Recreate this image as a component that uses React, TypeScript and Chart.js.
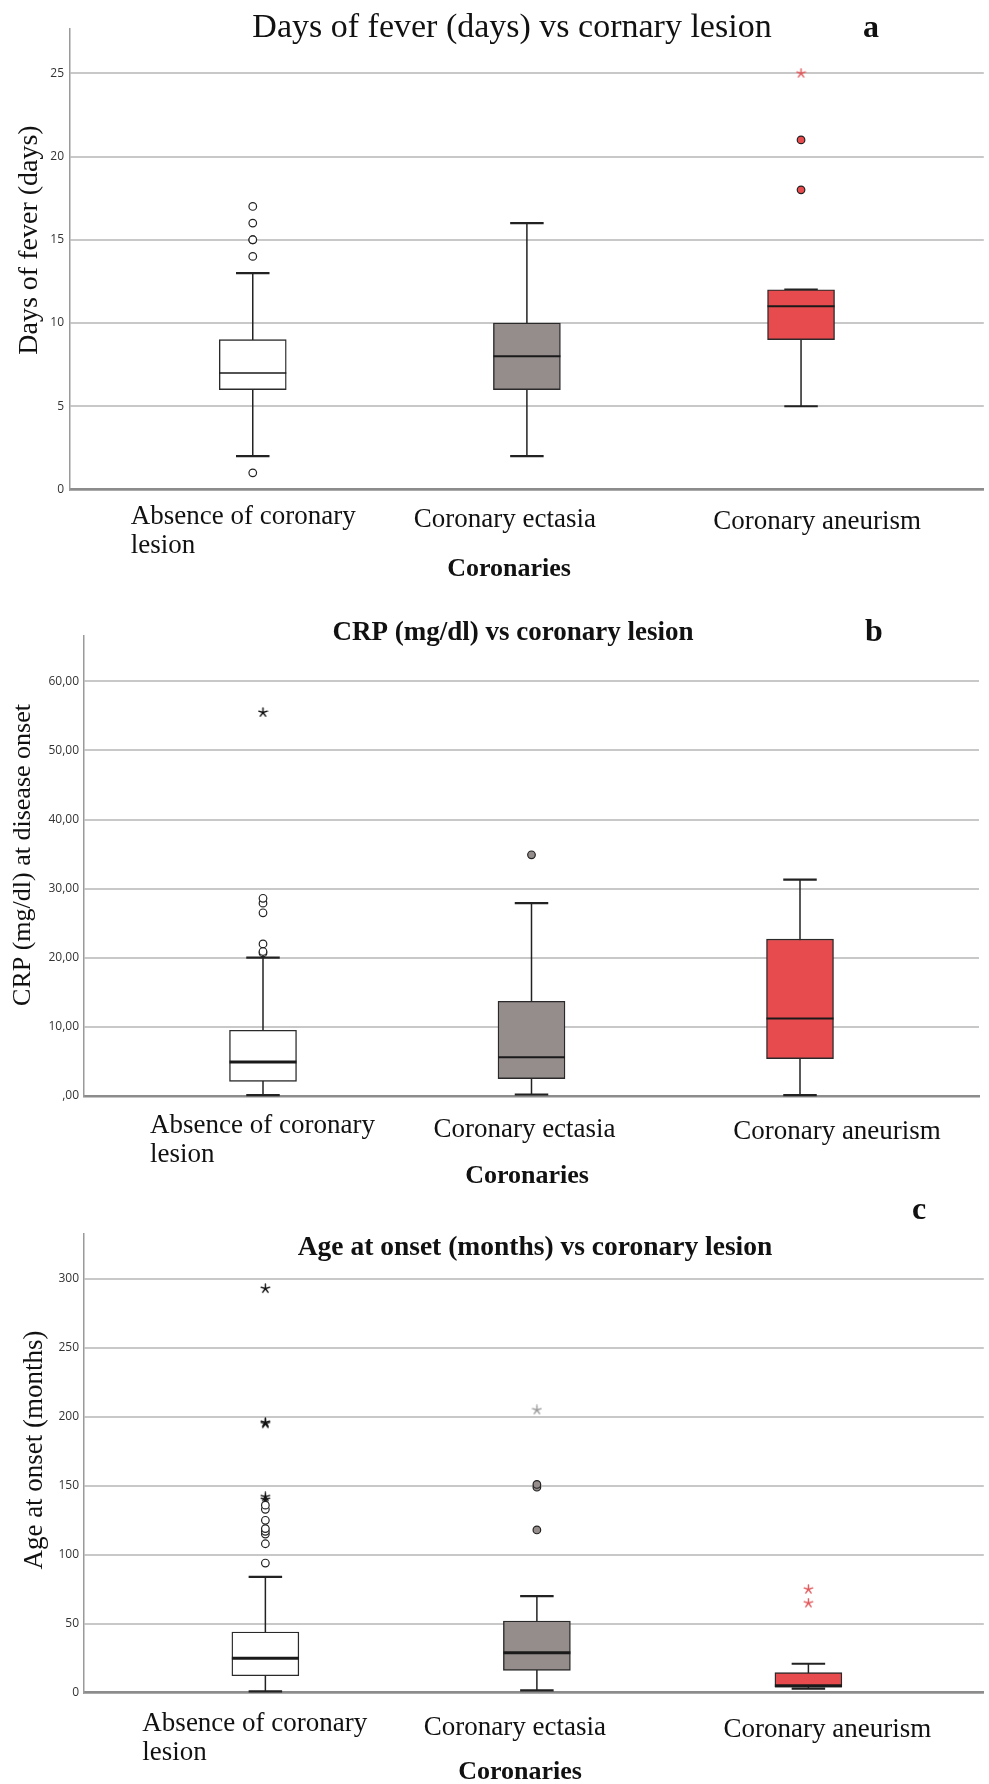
import React, { useEffect, useRef } from "react";
import { Chart, registerables } from "chart.js";

Chart.register(...registerables);

// ---------- shared categories ----------
const groupLines: string[][] = [["Absence of coronary", "lesion"], ["Coronary ectasia"], ["Coronary aneurism"]];
const groupPositions = [1, 2, 3];
const groupFills = ["#ffffff", "#958d8c", "#e84b4e"];
const starColors = ["#111111", "#9a9a9a", "#e0595b"];
const xAxisTitle = "Coronaries";

// ---------- panel a: days of fever ----------
const feverMin = [2, 2, 5];
const feverQ1 = [6, 6, 9];
const feverMedian = [7, 8, 11];
const feverQ3 = [9, 10, 12];
const feverMax = [13, 16, 12];
const feverOutliers = [[1, 14, 15, 15, 16, 17], [], [18, 21]];
const feverExtremes = [[], [], [25]];
const feverTicks = [0, 5, 10, 15, 20, 25];
const feverTickLabels = ["0", "5", "10", "15", "20", "25"];

// ---------- panel b: CRP ----------
const crpMin = [0.1, 0.2, 0.1];
const crpQ1 = [2.1, 2.5, 5.4];
const crpMedian = [4.9, 5.6, 11.2];
const crpQ3 = [9.5, 13.7, 22.7];
const crpMax = [20, 27.9, 31.3];
const crpOutliers = [[20.7, 20.9, 22.0, 26.5, 27.9, 28.6], [34.9], []];
const crpExtremes = [[55.5], [], []];
const crpTicks = [0, 10, 20, 30, 40, 50, 60];
const crpTickLabels = [",00", "10,00", "20,00", "30,00", "40,00", "50,00", "60,00"];

// ---------- panel c: age at onset ----------
const ageMin = [1, 1.7, 3];
const ageQ1 = [12.3, 16.2, 4];
const ageMedian = [25, 29, 5];
const ageQ3 = [44, 52, 14.5];
const ageMax = [84, 70, 21];
const ageOutliers = [[94, 108, 115, 117, 119, 125, 133, 136], [118, 149, 151], []];
const ageExtremes = [[140, 142, 195, 196, 293], [205], [65, 75]];
const ageTicks = [0, 50, 100, 150, 200, 250, 300];
const ageTickLabels = ["0", "50", "100", "150", "200", "250", "300"];

const SERIF = "'Liberation Serif', 'Times New Roman', Times, serif";
const SANS = "'Open Sans', 'DejaVu Sans', sans-serif";
const W = 989;

interface PanelCfg {
  top: number;
  height: number;
  min: number[];
  q1: number[];
  med: number[];
  q3: number[];
  max: number[];
  outliers: number[][];
  extremes: number[][];
  ticks: number[];
  tickLabels: string[];
  yMax: number;
  axisX: number;
  areaTop: number;
  areaBottom: number;
  areaRight: number;
  xMin: number;
  xMax: number;
  tickSize: number;
  tickPad: number;
  title: { text: string; bold: boolean; size: number; x: number; y: number };
  letter: { text: string; x: number; y: number };
  yTitle: { text: string; size: number; x: number; y: number };
  labelDx: number[];
  labelY: number[];
  xTitle: { x: number; y: number };
  medianWidths: number[];
}

const panels: PanelCfg[] = [
  {
    top: 0, height: 595,
    min: feverMin, q1: feverQ1, med: feverMedian, q3: feverQ3, max: feverMax,
    outliers: feverOutliers, extremes: feverExtremes,
    ticks: feverTicks, tickLabels: feverTickLabels,
    yMax: 27.66, axisX: 70, areaTop: 29, areaBottom: 489.5, areaRight: 987,
    xMin: 1 / 3, xMax: 11 / 3, tickSize: 12, tickPad: 6,
    title: { text: "Days of fever (days) vs cornary lesion", bold: false, size: 34, x: 512, y: 37 },
    letter: { text: "a", x: 871, y: 37 },
    yTitle: { text: "Days of fever (days)", size: 28, x: 30, y: 240 },
    labelDx: [-122, -22, 16], labelY: [524, 527, 529],
    xTitle: { x: 509, y: 576 },
    medianWidths: [1.6, 2, 2],
  },
  {
    top: 595, height: 595,
    min: crpMin, q1: crpQ1, med: crpMedian, q3: crpQ3, max: crpMax,
    outliers: crpOutliers, extremes: crpExtremes,
    ticks: crpTicks, tickLabels: crpTickLabels,
    yMax: 66.64, axisX: 84, areaTop: 40.5, areaBottom: 500.9, areaRight: 979,
    xMin: 1 / 3, xMax: 11 / 3, tickSize: 12, tickPad: 5,
    title: { text: "CRP (mg/dl) vs coronary lesion", bold: true, size: 27, x: 513, y: 45 },
    letter: { text: "b", x: 874, y: 46 },
    yTitle: { text: "CRP (mg/dl) at disease onset", size: 26, x: 23, y: 260 },
    labelDx: [-113, -7, 37], labelY: [538, 542, 544],
    xTitle: { x: 527, y: 588 },
    medianWidths: [3, 2, 2],
  },
  {
    top: 1190, height: 594,
    min: ageMin, q1: ageQ1, med: ageMedian, q3: ageQ3, max: ageMax,
    outliers: ageOutliers, extremes: ageExtremes,
    ticks: ageTicks, tickLabels: ageTickLabels,
    yMax: 332.6, axisX: 84, areaTop: 44, areaBottom: 502.7, areaRight: 987,
    xMin: 0.332, xMax: 3.646, tickSize: 12, tickPad: 5,
    title: { text: "Age at onset (months) vs coronary lesion", bold: true, size: 27.5, x: 535, y: 65 },
    letter: { text: "c", x: 919, y: 29 },
    yTitle: { text: "Age at onset (months)", size: 27, x: 35, y: 260 },
    labelDx: [-123, -22, 19], labelY: [541, 545, 547],
    xTitle: { x: 520, y: 589 },
    medianWidths: [3, 3, 3],
  },
];

function makeStar(color: string): HTMLCanvasElement {
  const size = 11;
  const c = document.createElement("canvas");
  c.width = size;
  c.height = size;
  const ctx = c.getContext("2d")!;
  ctx.strokeStyle = color;
  ctx.lineWidth = 1.4;
  ctx.lineCap = "round";
  const r = size / 2 - 1;
  const cx = size / 2;
  const cy = size / 2;
  for (let i = 0; i < 5; i++) {
    const a = -Math.PI / 2 + (i * 2 * Math.PI) / 5;
    ctx.beginPath();
    ctx.moveTo(cx, cy);
    ctx.lineTo(cx + r * Math.cos(a), cy + r * Math.sin(a));
    ctx.stroke();
  }
  return c;
}

function boxPlugin(cfg: PanelCfg) {
  return {
    id: "boxParts",
    beforeDatasetsDraw(chart: any) {
      const xs = chart.scales.x;
      const ys = chart.scales.y;
      const bars = chart.getDatasetMeta(0).data;
      const ctx = chart.ctx;
      ctx.save();
      ctx.strokeStyle = "#222";
      groupPositions.forEach((pos, i) => {
        const cx = xs.getPixelForValue(pos);
        const bw = bars[i] ? bars[i].width : 66;
        const capW = bw / 2;
        const yTop = ys.getPixelForValue(cfg.max[i]);
        const yBot = ys.getPixelForValue(cfg.min[i]);
        ctx.lineWidth = 1.5;
        ctx.beginPath();
        ctx.moveTo(cx, yTop);
        ctx.lineTo(cx, yBot);
        ctx.stroke();
        ctx.lineWidth = 2.2;
        ctx.beginPath();
        ctx.moveTo(cx - capW / 2, yTop);
        ctx.lineTo(cx + capW / 2, yTop);
        ctx.moveTo(cx - capW / 2, yBot);
        ctx.lineTo(cx + capW / 2, yBot);
        ctx.stroke();
      });
      ctx.restore();
    },
    afterDatasetDraw(chart: any, args: any) {
      if (args.index !== 0) return;
      const xs = chart.scales.x;
      const ys = chart.scales.y;
      const bars = chart.getDatasetMeta(0).data;
      const ctx = chart.ctx;
      ctx.save();
      ctx.strokeStyle = "#1a1a1a";
      groupPositions.forEach((pos, i) => {
        const cx = xs.getPixelForValue(pos);
        const bw = bars[i] ? bars[i].width : 66;
        const y = ys.getPixelForValue(cfg.med[i]);
        ctx.lineWidth = cfg.medianWidths[i];
        ctx.beginPath();
        ctx.moveTo(cx - bw / 2, y);
        ctx.lineTo(cx + bw / 2, y);
        ctx.stroke();
      });
      ctx.restore();
    },
  };
}

function textPlugin(cfg: PanelCfg) {
  return {
    id: "panelText",
    afterDraw(chart: any) {
      const ctx = chart.ctx;
      const xs = chart.scales.x;
      ctx.save();
      ctx.fillStyle = "#111";
      ctx.textBaseline = "alphabetic";
      ctx.textAlign = "center";
      ctx.font = `${cfg.title.bold ? "bold " : ""}${cfg.title.size}px ${SERIF}`;
      ctx.fillText(cfg.title.text, cfg.title.x, cfg.title.y);
      ctx.font = `bold 32px ${SERIF}`;
      ctx.fillText(cfg.letter.text, cfg.letter.x, cfg.letter.y);

      ctx.save();
      ctx.translate(cfg.yTitle.x, cfg.yTitle.y);
      ctx.rotate(-Math.PI / 2);
      ctx.textBaseline = "middle";
      ctx.font = `${cfg.yTitle.size}px ${SERIF}`;
      ctx.fillText(cfg.yTitle.text, 0, 0);
      ctx.restore();

      ctx.font = `27px ${SERIF}`;
      groupLines.forEach((lines, i) => {
        const px = xs.getPixelForValue(groupPositions[i]);
        ctx.textAlign = lines.length > 1 ? "left" : "center";
        lines.forEach((line, k) => {
          ctx.fillText(line, px + cfg.labelDx[i], cfg.labelY[i] + k * 29);
        });
      });

      ctx.textAlign = "center";
      ctx.font = `bold 26px ${SERIF}`;
      ctx.fillText(xAxisTitle, cfg.xTitle.x, cfg.xTitle.y);
      ctx.restore();
    },
  };
}

function BoxPanel({ cfg }: { cfg: PanelCfg }) {
  const ref = useRef<HTMLCanvasElement>(null);
  useEffect(() => {
    const canvas = ref.current;
    if (!canvas) return;
    const stars = starColors.map((c) => makeStar(c));
    const datasets: any[] = [
      {
        type: "bar",
        data: groupPositions.map((x, i) => ({ x, y: [cfg.q1[i], cfg.q3[i]] })),
        backgroundColor: groupFills,
        borderColor: "#2a2a2a",
        borderWidth: 1.4,
        borderSkipped: false,
        barThickness: 67,
        order: 2,
      },
    ];
    groupPositions.forEach((x, i) => {
      if (cfg.outliers[i].length) {
        datasets.push({
          type: "scatter",
          data: cfg.outliers[i].map((v) => ({ x, y: v })),
          pointStyle: "circle",
          pointRadius: 3.8,
          pointBorderWidth: 1.2,
          pointBackgroundColor: groupFills[i],
          pointBorderColor: "#222",
          order: 1,
        });
      }
      if (cfg.extremes[i].length) {
        datasets.push({
          type: "scatter",
          data: cfg.extremes[i].map((v) => ({ x, y: v })),
          pointStyle: stars[i],
          pointRadius: 4,
          order: 1,
        });
      }
    });

    const chart = new Chart(canvas, {
      type: "bar",
      data: { datasets },
      options: {
        responsive: false,
        maintainAspectRatio: false,
        animation: false,
        devicePixelRatio: 1,
        events: [],
        layout: {
          padding: {
            left: 0,
            top: cfg.areaTop,
            right: W - cfg.areaRight,
            bottom: cfg.height - cfg.areaBottom,
          },
        },
        plugins: {
          legend: { display: false },
          tooltip: { enabled: false },
          title: { display: false },
        },
        scales: {
          x: {
            type: "linear",
            min: cfg.xMin,
            max: cfg.xMax,
            bounds: "data",
            offset: false,
            grid: { display: false, offset: false, drawTicks: false },
            border: { display: true, color: "#8c8c8c", width: 2.5 },
            ticks: { display: false },
            afterFit: (s: any) => {
              s.height = 0;
            },
          },
          y: {
            type: "linear",
            min: 0,
            max: cfg.yMax,
            bounds: "data",
            beginAtZero: true,
            afterBuildTicks: (s: any) => {
              s.ticks = cfg.ticks.map((v) => ({ value: v }));
            },
            afterFit: (s: any) => {
              s.width = cfg.axisX;
            },
            grid: { color: "#c8c8c8", lineWidth: 2, drawTicks: false },
            border: { display: true, color: "#9a9a9a", width: 1.5 },
            ticks: {
              padding: cfg.tickPad,
              color: "#333",
              font: { family: SANS, size: cfg.tickSize },
              callback: (v: any) => {
                const k = cfg.ticks.indexOf(Number(v));
                return k >= 0 ? cfg.tickLabels[k] : "";
              },
            },
          },
        },
      } as any,
      plugins: [boxPlugin(cfg), textPlugin(cfg)],
    });
    return () => chart.destroy();
  }, [cfg]);

  return (
    <canvas
      ref={ref}
      width={W}
      height={cfg.height}
      style={{ position: "absolute", left: 0, top: cfg.top, width: W, height: cfg.height, display: "block" }}
    />
  );
}

export default function App() {
  return (
    <div style={{ position: "absolute", left: 0, top: 0, width: W, height: 1784, background: "#fff", overflow: "hidden" }}>
      {panels.map((p, i) => (
        <BoxPanel key={i} cfg={p} />
      ))}
    </div>
  );
}
